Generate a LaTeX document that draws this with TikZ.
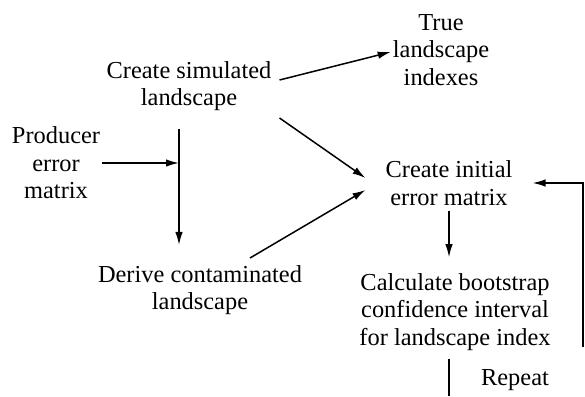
\documentclass[tikz,border=0pt]{standalone}
\usepackage{fontspec}
\setmainfont{Liberation Serif}
\usetikzlibrary{arrows.meta}
\tikzset{
  txt/.style={align=center, inner sep=0pt, font=\fontsize{24.4}{27.5}\selectfont},
  flow/.style={line width=1.5pt, -{Latex[length=13pt,width=7.5pt]}}
}
\begin{document}
\begin{tikzpicture}[x=1pt,y=1pt]
\useasboundingbox (0,0) rectangle (585,-396);
\node [txt] (sim) at (189,-86) {Create simulated\\landscape};
\node [txt] (true) at (441,-50) {True\\landscape\\indexes};
\node [txt] (prod) at (56,-163) {Producer\\error\\matrix};
\node [txt] (init) at (449,-183) {Create initial\\error matrix};
\node [txt] (der) at (200,-290) {Derive contaminated\\landscape};
\node [txt] (calc) at (455,-312) {Calculate bootstrap\\confidence interval\\for landscape index};
\node [txt] (rep) at (515,-380) {Repeat};
\coordinate (join) at (179,-163);
\coordinate (cut) at (449,-396);
\coordinate (back) at (583,-347);
\draw [flow] ([shift={(8,6)}]sim.east) -- ([shift={(-2,-2)}]true.west);
\draw [flow] ([shift={(8,-32)}]sim.east) -- ([shift={(-20,5)}]init.west);
\draw [flow] ([shift={(50,32)}]der.center) -- ([shift={(-20,-7)}]init.west);
\draw [flow] ([xshift=2pt]prod.east) -- (join);
\draw [flow, shorten <=18pt, shorten >=20pt] (sim.south -| join) -- (der.north -| join);
\draw [flow, shorten <=5pt, shorten >=16pt] (init.south) -- (calc.north -| init.south);
\draw [line width=1.5pt, shorten <=8pt] (calc.south -| cut) -- (cut);
\draw [flow] (back) |- ([xshift=20pt]init.east);
\end{tikzpicture}
\end{document}
